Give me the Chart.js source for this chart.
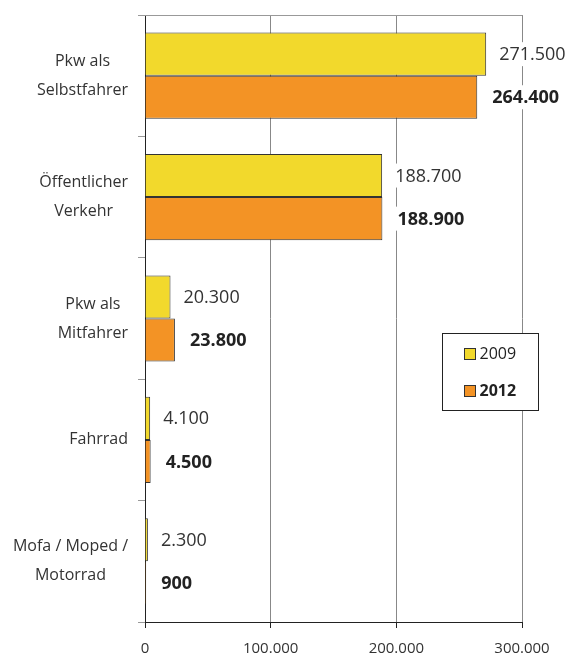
<!DOCTYPE html>
<html>
<head>
<meta charset="utf-8">
<script src="https://cdn.jsdelivr.net/npm/chart.js@4"></script>
<style>
  html, body { margin: 0; padding: 0; background: #fff; }
  #wrap { width: 569px; height: 659px; }
</style>
</head>
<body>
<div id="wrap"><canvas id="chart" width="569" height="659"></canvas></div>
<script>
// ---- data ----
const kategorien = [
  ["Pkw als", "Selbstfahrer"],
  ["Öffentlicher", "Verkehr"],
  ["Pkw als", "Mitfahrer"],
  ["Fahrrad"],
  ["Mofa / Moped /", "Motorrad"],
];
const jahre = ["2009", "2012"];
const werte2009 = [271500, 188700, 20300, 4100, 2300];
const werte2012 = [264400, 188900, 23800, 4500, 900];
const xTicks = [0, 100000, 200000, 300000];

const gelb = "#f2d92c";
const orange = "#f39325";
const schrift = "'Open Sans', 'Noto Sans', sans-serif";
const fmt = (v) => v.toLocaleString("de-DE");

// Kategorie-Beschriftungen (zentriert je Block, rechtsbündig am Block)
const kategorieLabels = {
  id: "kategorieLabels",
  afterDraw(chart) {
    const ctx = chart.ctx;
    const y = chart.scales.y;
    const rechts = chart.chartArea.left - 17;
    const zeilenHoehe = 29;
    ctx.save();
    ctx.font = `16px ${schrift}`;
    ctx.fillStyle = "#333";
    ctx.textAlign = "center";
    ctx.textBaseline = "middle";
    kategorien.forEach((zeilen, i) => {
      const breit = Math.max(...zeilen.map((z) => ctx.measureText(z).width));
      const cx = rechts - breit / 2;
      const cy = y.getPixelForTick(i);
      const start = cy - ((zeilen.length - 1) * zeilenHoehe) / 2;
      zeilen.forEach((z, k) => ctx.fillText(z, cx, start + k * zeilenHoehe));
    });
    ctx.restore();
  },
};

// Wertebeschriftungen neben den Balken
const wertLabels = {
  id: "wertLabels",
  afterDatasetsDraw(chart) {
    const ctx = chart.ctx;
    ctx.save();
    ctx.textBaseline = "middle";
    ctx.textAlign = "left";
    chart.data.datasets.forEach((ds, d) => {
      const meta = chart.getDatasetMeta(d);
      ctx.font = (d === 1 ? "bold " : "") + `18px ${schrift}`;
      meta.data.forEach((bar, i) => {
        const txt = fmt(ds.data[i]);
        const x = bar.x + (d === 1 ? 15 : 13);
        const w = ctx.measureText(txt).width;
        ctx.fillStyle = "#fff";
        ctx.fillRect(x - 2, bar.y - 12, w + 4, 24);
        ctx.fillStyle = d === 1 ? "#222" : "#333";
        ctx.fillText(txt, x, bar.y + 1);
      });
    });
    ctx.restore();
  },
};

// obere Linie + Legende
const rahmenLegende = {
  id: "rahmenLegende",
  afterDraw(chart) {
    const ctx = chart.ctx;
    const a = chart.chartArea;
    ctx.save();
    ctx.strokeStyle = "#999";
    ctx.lineWidth = 1;
    ctx.beginPath();
    ctx.moveTo(a.left - 7, a.top + 0.5);
    ctx.lineTo(a.right + 0.5, a.top + 0.5);
    ctx.stroke();

    // Legende
    const lx = 442.5, ly = 333.5, lw = 96, lh = 77;
    ctx.fillStyle = "#fff";
    ctx.fillRect(lx, ly, lw, lh);
    ctx.strokeStyle = "#222";
    ctx.strokeRect(lx, ly, lw, lh);
    ctx.textBaseline = "middle";
    ctx.textAlign = "left";
    chart.data.datasets.forEach((ds, d) => {
      const yy = ly + 20 + d * 37;
      ctx.fillStyle = ds.backgroundColor;
      ctx.fillRect(lx + 22, yy - 5, 11, 11);
      ctx.strokeStyle = "#333";
      ctx.strokeRect(lx + 22, yy - 5, 11, 11);
      ctx.fillStyle = "#222";
      ctx.font = (d === 1 ? "bold " : "") + `16px ${schrift}`;
      ctx.fillText(ds.label, lx + 37, yy + 1);
    });
    ctx.restore();
  },
};

new Chart(document.getElementById("chart"), {
  type: "bar",
  data: {
    labels: kategorien,
    datasets: [
      {
        label: jahre[0],
        data: werte2009,
        backgroundColor: gelb,
        borderColor: "#333",
        borderWidth: 1,
      },
      {
        label: jahre[1],
        data: werte2012,
        backgroundColor: orange,
        borderColor: "#333",
        borderWidth: 1,
      },
    ],
  },
  options: {
    indexAxis: "y",
    responsive: false,
    animation: false,
    categoryPercentage: 0.71,
    barPercentage: 1,
    layout: { padding: { top: 15, right: 47, left: 0, bottom: 0 } },
    plugins: { legend: { display: false }, tooltip: { enabled: false } },
    scales: {
      x: {
        min: 0,
        max: 300000,
        afterBuildTicks: (s) => { s.ticks = xTicks.map((v) => ({ value: v })); },
        afterFit: (s) => { s.height = 37; },
        ticks: {
          callback: (v) => fmt(v),
          color: "#333",
          font: { family: schrift, size: 15 },
          padding: 12,
        },
        grid: { color: "#888", tickLength: 6, tickColor: "#222" },
        border: { color: "#222" },
      },
      y: {
        afterFit: (s) => { s.width = 145; },
        ticks: { display: false },
        grid: { offset: true, drawOnChartArea: false, tickLength: 7, color: "#999" },
        border: { color: "#222" },
      },
    },
  },
  plugins: [kategorieLabels, wertLabels, rahmenLegende],
});
</script>
</body>
</html>
